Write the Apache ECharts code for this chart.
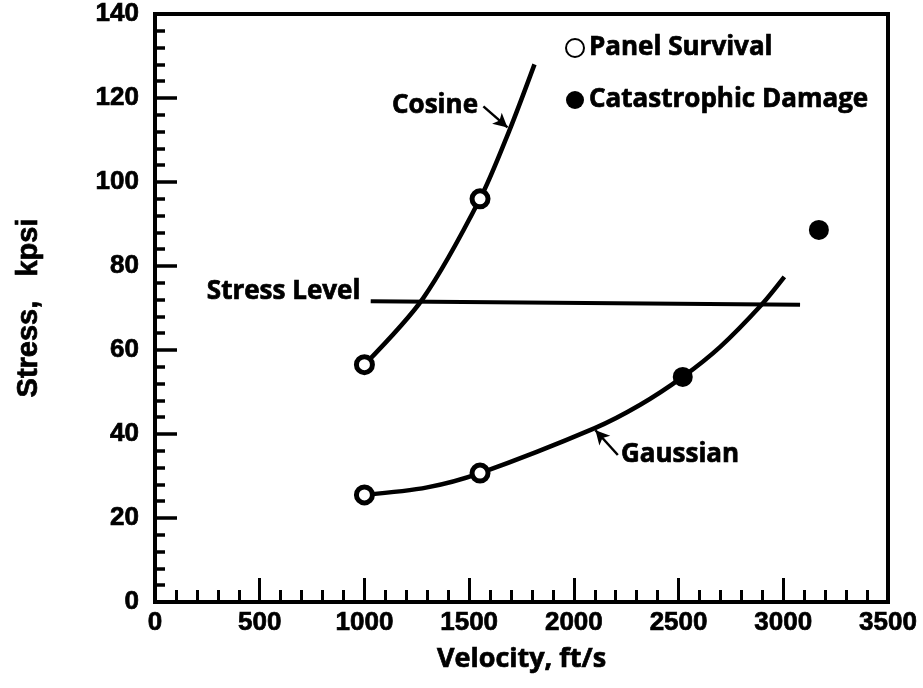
<!DOCTYPE html>
<html>
<head>
<meta charset="utf-8">
<script src="https://cdn.jsdelivr.net/npm/echarts@6/dist/echarts.min.js"></script>
<style>
  html, body { margin: 0; padding: 0; background: #fff; }
  #chart { width: 923px; height: 688px; }
</style>
</head>
<body>
<div id="chart"></div>
<script>
// Stress vs. impact velocity for the two pressure-pulse shapes
const xTicks = [0, 500, 1000, 1500, 2000, 2500, 3000, 3500];
const yTicks = [0, 20, 40, 60, 80, 100, 120, 140];

// Fitted curves [velocity ft/s, stress kpsi]
const cosineCurve = [[1000, 56.5], [1280, 72.3], [1552, 96], [1690, 112], [1812, 128]];
const gaussianCurve = [[1000, 25.5], [1300, 27.3], [1552, 30.7], [2100, 41.4], [2315, 46.9],
                       [2520, 53.6], [2700, 60.8], [2895, 70.7], [3005, 77.4]];

// Test results
const panelSurvival = [[1000, 56.5], [1552, 96], [1000, 25.5], [1552, 30.7]];
const catastrophicDamage = [[2520, 53.6], [3170, 88.6]];

// Design stress level
const stressLevel = [[1030, 71.6], [3080, 70.8]];

// Curve annotations: text anchors and pointer arrows
const noteLabels = [
  { name: 'Cosine', value: [1337, 118.3] },
  { name: 'Stress Level', value: [614, 73.9] },
  { name: 'Gaussian', value: [2507, 35] }
];
const cosineArrow = [[1568, 118], [1683, 113]];
const gaussianArrow = [[2210, 35], [2103, 40.9]];

const textFont = 'Open Sans';
const numFont = 'Liberation Sans';
const heavy = { textBorderColor: '#000', textBorderWidth: 0.7 };

const chart = echarts.init(document.getElementById('chart'), null, { renderer: 'canvas' });

const arrowLine = (pts) => ({
  silent: true,
  symbol: ['none', 'arrow'],
  symbolSize: [11, 14],
  label: { show: false },
  lineStyle: { color: '#000', width: 2.5, type: 'solid', opacity: 1 },
  data: [[{ coord: pts[0] }, { coord: pts[1] }]]
});

const plainNumber = (v) => String(v);

const option = {
  backgroundColor: '#fff',
  animation: false,
  grid: {
    left: 155, right: 35, top: 14, bottom: 86,
    show: true, borderColor: '#000', borderWidth: 4
  },
  legend: {
    orient: 'vertical',
    left: 560, top: 28,
    itemWidth: 18, itemHeight: 18,
    itemGap: 22, itemTextGap: 4,
    textStyle: Object.assign({ fontFamily: textFont, fontWeight: 'bold', fontSize: 26, color: '#000', lineHeight: 30 }, heavy),
    data: [
      { name: 'Panel Survival', icon: 'circle' },
      { name: 'Catastrophic Damage', icon: 'circle' }
    ]
  },
  xAxis: {
    type: 'value',
    min: xTicks[0], max: xTicks[xTicks.length - 1], interval: 500,
    axisLine: { show: true, onZero: false, lineStyle: { color: '#000', width: 4 } },
    axisTick: { show: true, inside: true, length: 24, lineStyle: { color: '#000', width: 3 } },
    minorTick: { show: true, splitNumber: 5, length: 12, lineStyle: { color: '#000', width: 3 } },
    splitLine: { show: false },
    axisLabel: Object.assign({ color: '#000', fontFamily: numFont, fontWeight: 'bold', fontSize: 26, margin: 8, formatter: plainNumber }, heavy),
    name: 'Velocity, ft/s',
    nameLocation: 'middle', nameGap: 44,
    nameTextStyle: Object.assign({ color: '#000', fontFamily: textFont, fontWeight: 'bold', fontSize: 27 }, heavy)
  },
  yAxis: {
    type: 'value',
    min: yTicks[0], max: yTicks[yTicks.length - 1], interval: 20,
    axisLine: { show: true, onZero: false, lineStyle: { color: '#000', width: 4 } },
    axisTick: { show: true, inside: true, length: 22, lineStyle: { color: '#000', width: 3.5 } },
    minorTick: { show: true, splitNumber: 5, length: 10, lineStyle: { color: '#000', width: 3.5 } },
    splitLine: { show: false },
    axisLabel: Object.assign({ color: '#000', fontFamily: numFont, fontWeight: 'bold', fontSize: 26, margin: 16, formatter: plainNumber }, heavy),
    name: 'Stress,   kpsi',
    nameLocation: 'middle', nameGap: 112, nameRotate: 90,
    nameTextStyle: Object.assign({ color: '#000', fontFamily: numFont, fontWeight: 'bold', fontSize: 29 }, heavy)
  },
  series: [
    {
      name: 'Cosine', type: 'line', data: cosineCurve,
      smooth: 0.3, showSymbol: false, silent: true,
      lineStyle: { color: '#000', width: 4.5 },
      markLine: arrowLine(cosineArrow)
    },
    {
      name: 'Gaussian', type: 'line', data: gaussianCurve,
      smooth: 0.3, showSymbol: false, silent: true,
      lineStyle: { color: '#000', width: 4.5 },
      markLine: arrowLine(gaussianArrow)
    },
    {
      name: 'Stress Level', type: 'line', data: stressLevel,
      showSymbol: false, silent: true,
      lineStyle: { color: '#000', width: 4 }
    },
    {
      name: 'Panel Survival', type: 'scatter', data: panelSurvival,
      symbol: 'circle', symbolSize: 16, z: 5,
      itemStyle: { color: '#fff', borderColor: '#000', borderWidth: 5, opacity: 1 }
    },
    {
      name: 'Catastrophic Damage', type: 'scatter', data: catastrophicDamage,
      symbol: 'circle', symbolSize: 20, z: 5,
      itemStyle: { color: '#000', borderColor: '#000', borderWidth: 0, opacity: 1 }
    },
    {
      name: 'notes', type: 'scatter', data: noteLabels,
      symbolSize: 1, silent: true,
      itemStyle: { color: '#fff', opacity: 0 },
      label: Object.assign({
        show: true, position: 'inside', formatter: '{b}', opacity: 1,
        color: '#000', fontFamily: textFont, fontWeight: 'bold', fontSize: 26
      }, heavy)
    }
  ]
};

chart.setOption(option);
</script>
</body>
</html>
